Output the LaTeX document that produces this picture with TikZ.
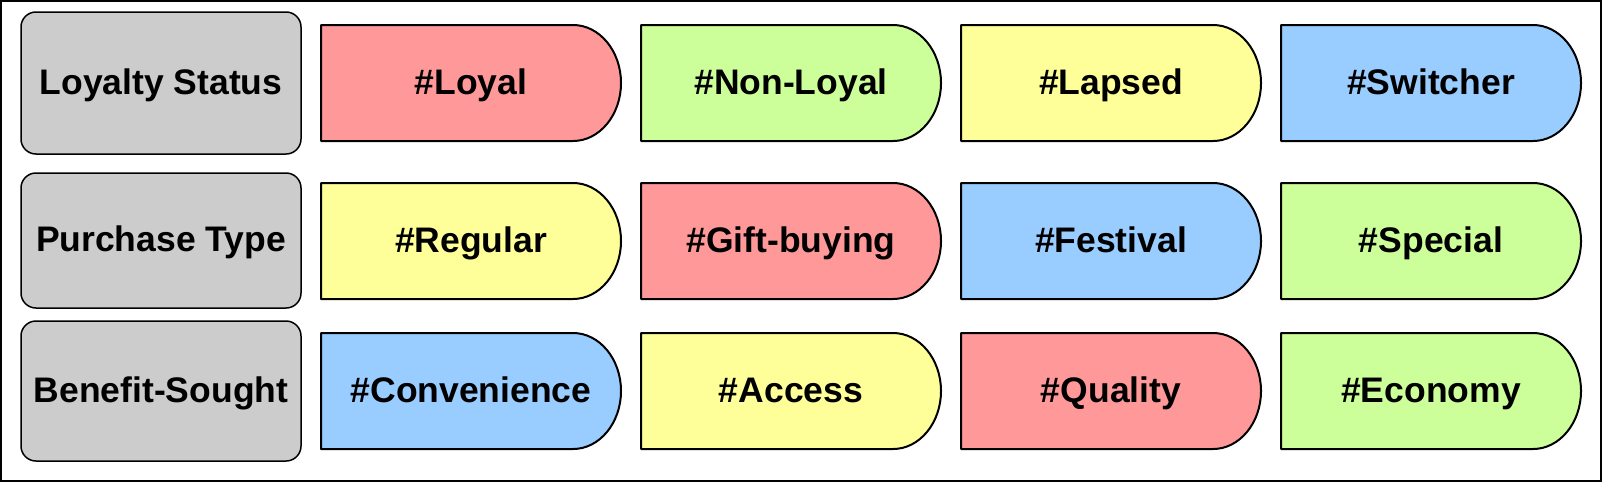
\documentclass[tikz,border=0pt]{standalone}
\usepackage{fontspec}
\setmainfont{Liberation Sans}
\definecolor{tagred}{HTML}{FF9999}
\definecolor{taggreen}{HTML}{CCFF99}
\definecolor{tagyellow}{HTML}{FFFF99}
\definecolor{tagblue}{HTML}{99CCFF}
\definecolor{catgray}{HTML}{CCCCCC}
\tikzset{
  catbox/.style={draw=black, line width=1.5pt, fill=catgray, rounded corners=15pt,
    minimum width=280pt, inner sep=0pt, text height=26pt, text depth=4pt,
    font=\fontsize{35.5}{40}\selectfont\bfseries},
  tagtext/.style={inner sep=0pt, text height=26pt, text depth=4pt,
    font=\fontsize{35.5}{40}\selectfont\bfseries},
  tagshape/.style={draw=black, line width=2pt, line join=round},
  frame/.style={draw=black, line width=2pt}
}
% \tagbox{name}{cx}{cy}{color}{text}
\newcommand{\tagbox}[5]{%
  \draw[tagshape, fill=#4] ({#2-150},{#3-58}) -- ({#2+102},{#3-58})
    .. controls ({#2+128.5},{#3-58}) and ({#2+150},{#3-32}) .. ({#2+150},{#3})
    .. controls ({#2+150},{#3+32}) and ({#2+128.5},{#3+58}) .. ({#2+102},{#3+58})
    -- ({#2-150},{#3+58}) -- cycle;
  \node[tagtext] (#1) at (#2,#3) {#5};
}
\begin{document}
\begin{tikzpicture}[x=1pt, y=-1pt]
\useasboundingbox (0,0) rectangle (1602,482);
\draw[frame] (1,1) rectangle (1601,481);

\node[catbox, minimum height=142pt] (loyalty) at (161,83) {Loyalty Status};
\node[catbox, minimum height=135pt] (purchase) at (161,240.5) {Purchase Type};
\node[catbox, minimum height=140pt] (benefit) at (161,391) {Benefit-Sought};

\tagbox{loyal}{471}{83}{tagred}{\#Loyal}
\tagbox{nonloyal}{791}{83}{taggreen}{\#Non-Loyal}
\tagbox{lapsed}{1111}{83}{tagyellow}{\#Lapsed}
\tagbox{switcher}{1431}{83}{tagblue}{\#Switcher}

\tagbox{regular}{471}{241}{tagyellow}{\#Regular}
\tagbox{gift}{791}{241}{tagred}{\#Gift-buying}
\tagbox{festival}{1111}{241}{tagblue}{\#Festival}
\tagbox{special}{1431}{241}{taggreen}{\#Special}

\tagbox{convenience}{471}{391}{tagblue}{\#Convenience}
\tagbox{access}{791}{391}{tagyellow}{\#Access}
\tagbox{quality}{1111}{391}{tagred}{\#Quality}
\tagbox{economy}{1431}{391}{taggreen}{\#Economy}
\end{tikzpicture}
\end{document}
